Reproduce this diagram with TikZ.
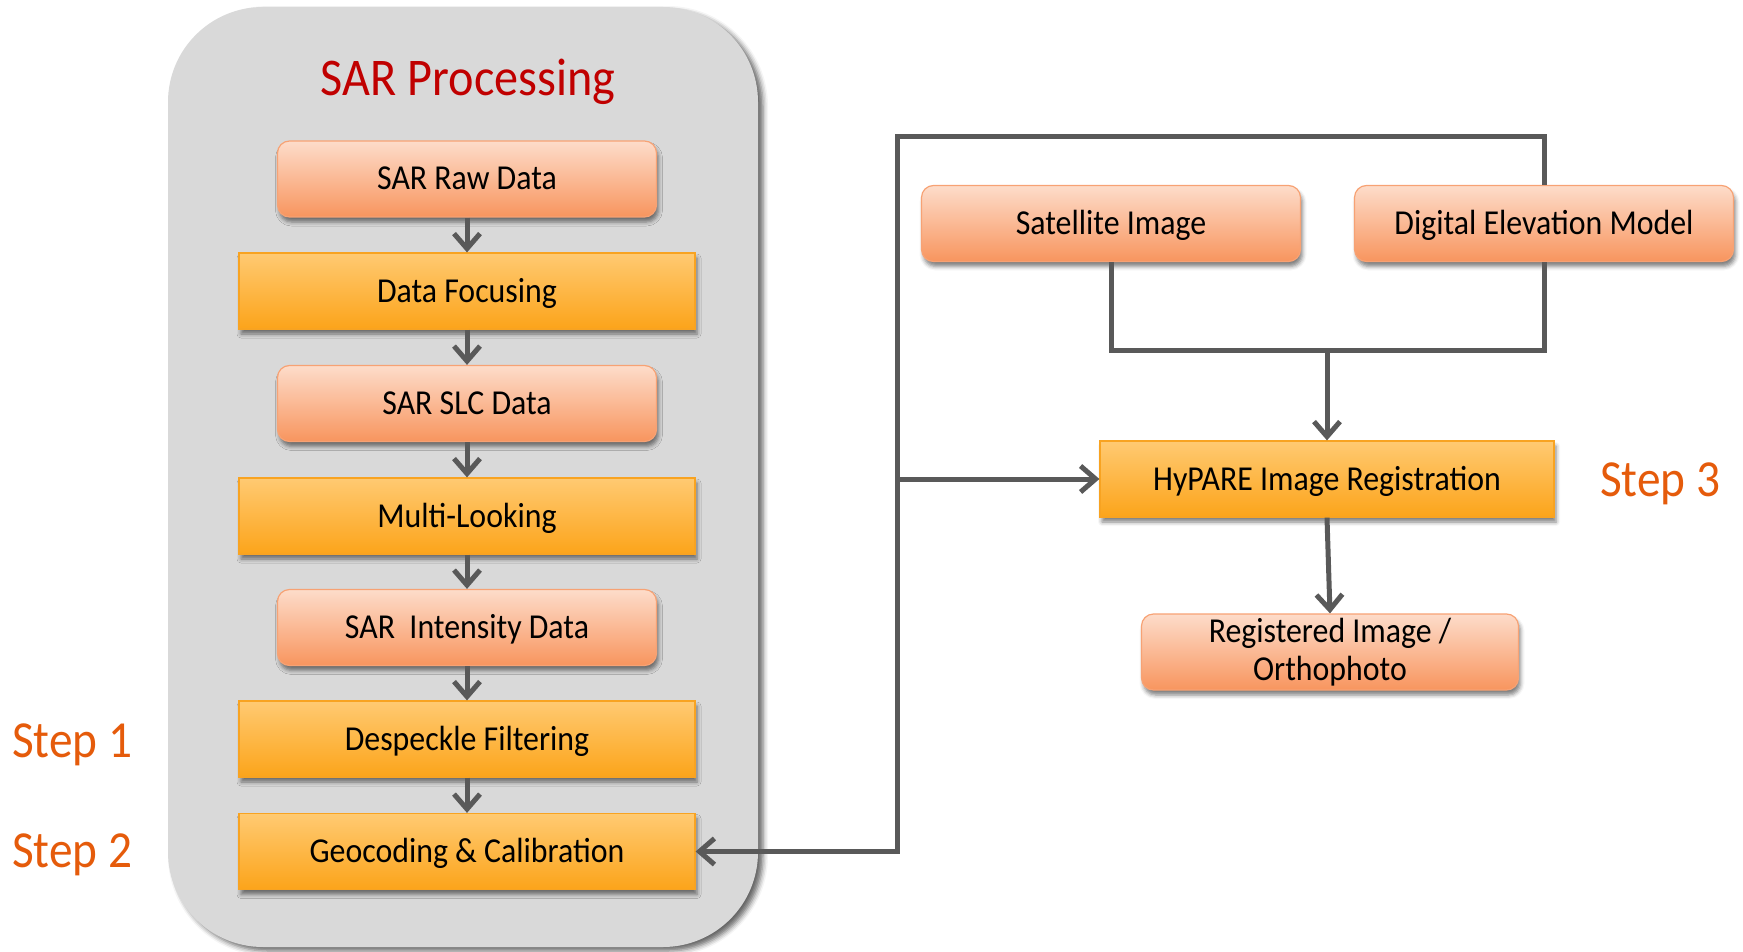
\documentclass[tikz,border=0pt]{standalone}
\usepackage{fontspec}
\setmainfont{Carlito}[FakeStretch=0.91]
\usetikzlibrary{arrows.meta,shadows.blur}

\definecolor{panelgrey}{HTML}{D9D9D9}
\definecolor{linegrey}{HTML}{595959}
\definecolor{salmontop}{HTML}{FDDCCA}
\definecolor{salmonbot}{HTML}{F8955E}
\definecolor{salmonedge}{HTML}{F7A274}
\definecolor{ambertop}{HTML}{FFCA72}
\definecolor{amberbot}{HTML}{FCA41A}
\definecolor{amberedge}{HTML}{F8A321}
\definecolor{titlered}{HTML}{C00000}
\definecolor{steporange}{HTML}{E55B0B}

\begin{document}
\begin{tikzpicture}[x=1pt,y=-1pt,
  boxtext/.style={font=\fontsize{35}{36}\selectfont, text=black, align=center,
    inner sep=0pt, text height=22pt, text depth=0pt},
  boxshadow/.style={blur shadow={shadow xshift=2pt, shadow yshift=-5pt,
    shadow blur radius=4pt, shadow opacity=50}},
  databox/.style={boxtext, boxshadow, rounded corners=12pt, minimum width=379pt,
    minimum height=76pt, top color=salmontop, bottom color=salmonbot,
    draw=salmonedge, line width=1.2pt},
  procbox/.style={boxtext, boxshadow, minimum width=456pt, minimum height=76pt,
    top color=ambertop, bottom color=amberbot, draw=amberedge, line width=1.2pt},
  link/.style={draw=linegrey, line width=5pt},
  flow/.style={link, -{Straight Barb[length=15pt,width=26pt]}},
  steplabel/.style={font=\fontsize{52}{52}\selectfont, text=steporange,
    inner sep=0pt, anchor=base west}
]
\useasboundingbox (0,0) rectangle (1743,952);

% grey background panel of the processing chain
\fill[panelgrey, rounded corners=95pt,
  blur shadow={shadow xshift=5pt, shadow yshift=-4pt, shadow blur radius=5pt, shadow opacity=60}]
  (168,7) rectangle (758,947);

\node[font=\fontsize{53}{53}\selectfont, text=titlered, anchor=base, inner sep=0pt]
  (title) at (468,96) {SAR Processing};

% processing chain
\node[databox] (raw)    at (467,179)   {SAR Raw Data};
\node[procbox] (focus)  at (467,291)   {Data Focusing};
\node[databox] (slc)    at (467,403.5) {SAR SLC Data};
\node[procbox] (multi)  at (467,516)   {Multi-Looking};
\node[databox] (inten)  at (467,627.5) {SAR\ \ Intensity Data};
\node[procbox] (desp)   at (467,739)   {Despeckle Filtering};
\node[procbox] (geo)    at (467,851.5) {Geocoding \& Calibration};

\draw[flow] (raw)   -- (focus);
\draw[flow] (focus) -- (slc);
\draw[flow] (slc)   -- (multi);
\draw[flow] (multi) -- (inten);
\draw[flow] (inten) -- (desp);
\draw[flow] (desp)  -- (geo);

% registration part
\node[databox] (sat)    at (1111,223.5) {Satellite Image};
\node[databox] (dem)    at (1544,223.5) {Digital Elevation Model};
\node[procbox, minimum width=454pt] (hypare) at (1327,479) {HyPARE Image Registration};
\node[databox, minimum width=377pt, text height=, text depth=, font=\fontsize{35}{38}\selectfont]
  (reg) at (1330,652) {Registered Image /\\Orthophoto};

\coordinate (loop)  at (897,137);
\coordinate (merge) at (1327,350);

\draw[flow] (dem.north) -- (dem.north |- loop) -- (loop) -- (loop |- geo.east) -- (geo.east);
\draw[flow] (loop |- hypare.west) -- (hypare.west);
\draw[link] (sat.south) -- (sat.south |- merge) -- (dem.south |- merge) -- (dem.south);
\draw[flow] (merge) -- (hypare.north);
\draw[flow] (hypare.south) -- (reg.north);

% step labels
\node[steplabel] (step1) at (12,757) {Step 1};
\node[steplabel] (step2) at (12,867) {Step 2};
\node[steplabel] (step3) at (1600,496) {Step 3};
\end{tikzpicture}
\end{document}
